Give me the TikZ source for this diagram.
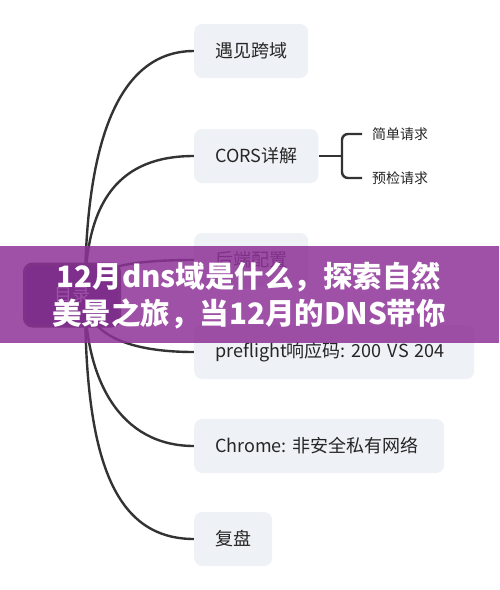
\documentclass[tikz,border=0pt]{standalone}
\usepackage{fontspec}
\newfontfamily\cjk{Noto Sans CJK SC}
\usetikzlibrary{backgrounds}

\definecolor{boxgray}{RGB}{238,241,245}
\definecolor{linec}{RGB}{51,51,51}
\definecolor{rootc}{RGB}{34,30,70}
\definecolor{bannerc}{RGB}{142,50,152}

\tikzset{
  topic/.style={fill=boxgray, rounded corners=8pt, anchor=west, inner xsep=21pt,
    minimum height=54pt, font=\cjk\frenchspacing\fontsize{18}{22}\selectfont, text=black!85},
  subtopic/.style={anchor=west, inner xsep=10pt, font=\cjk\fontsize{14}{17}\selectfont, text=black!85},
  branch/.style={draw=linec, line width=2.4pt},
}

\begin{document}
\begin{tikzpicture}[x=1pt, y=-1pt]
  \useasboundingbox (0,0) rectangle (499,590);

  % Root
  \node[fill=rootc, draw=linec, line width=3pt, rounded corners=8pt,
    minimum width=95pt, minimum height=62pt, text=white,
    font=\cjk\fontsize{18}{22}\selectfont] (root) at (72,295) {目录};
  \coordinate (hub) at (85,295);

  % Topics
  \node[topic] (cross)  at (194,51)  {遇见跨域};
  \node[topic] (cors)   at (194,156) {CORS详解};
  \node[topic] (server) at (194,260) {后端配置};
  \node[topic, text width=238pt, align=left] (code) at (194,352) {preflight响应码: 200 VS 204};
  \node[topic, text width=208pt, align=left] (chrome) at (194,446) {Chrome: 非安全私有网络};
  \node[topic] (review) at (194,539) {复盘};

  % Subtopics of CORS
  \node[subtopic] (simple) at (362,134) {简单请求};
  \node[subtopic] (pre)    at (362,178) {预检请求};
  \coordinate (fork) at (342,156);

  % Branches
  \begin{pgfonlayer}{background}
    \draw[branch] (hub) .. controls +(0,-145) and +(-79,0) .. (cross.west);
    \draw[branch] (hub) .. controls +(0,-95) and +(-74,0) .. (cors.west);
    \draw[branch] (hub) .. controls +(0,-25) and +(-74,0) .. (server.west);
    \draw[branch] (hub) .. controls +(0,35) and +(-74,0) .. (code.west);
    \draw[branch] (hub) .. controls +(0,85) and +(-74,0) .. (chrome.west);
    \draw[branch] (hub) .. controls +(0,155) and +(-84,0) .. (review.west);
  \end{pgfonlayer}
  \draw[branch] (cors.east) -- (fork);
  \draw[branch, rounded corners=6pt] (fork) |- (simple.west);
  \draw[branch, rounded corners=6pt] (fork) |- (pre.west);

  % Banner
  \fill[bannerc, opacity=0.85] (0,246) rectangle (499,343);
  \node[text=white, align=center, font=\cjk\bfseries\fontsize{29.5}{37}\selectfont]
    (title) at (249,296) {12月dns域是什么，探索自然\\美景之旅，当12月的DNS带你};
\end{tikzpicture}
\end{document}
